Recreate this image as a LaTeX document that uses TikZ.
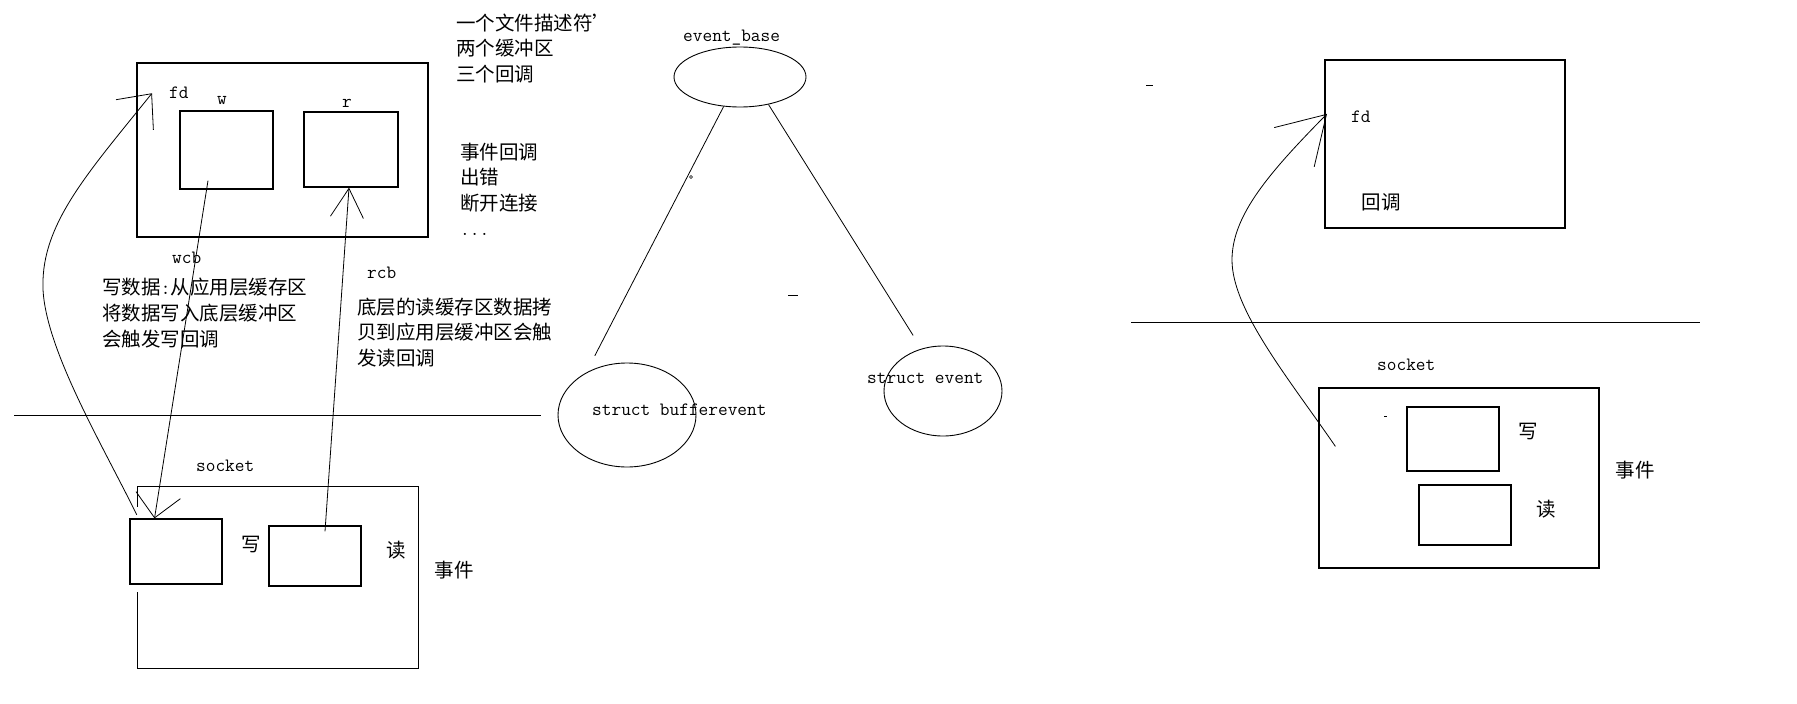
\documentclass[tikz,border=0pt]{standalone}
\usepackage{fontspec}
\newfontfamily\cjk{Noto Sans CJK SC}
\usetikzlibrary{arrows.meta,calc,positioning,shapes.geometric}
\tikzset{
    box/.style = {
        draw,
        line width=1.2pt,
        inner sep=0pt,
        },
    blob/.style = {
        draw,
        ellipse,
        line width=0.9pt,
        inner sep=0pt,
        },
    code/.style = {
        font=\fontsize{18.8}{22}\selectfont\ttfamily,
        inner sep=0pt,
        anchor=base west,
        },
    note/.style = {
        font=\cjk\fontsize{19.5}{25.8}\selectfont,
        align=left,
        inner sep=0pt,
        anchor=west,
        },
    link/.style = {
        line width=0.8pt,
        },
    fdtip/.style = {
        -{Straight Barb[length=27pt,width=48pt]},
        },
    fdtipr/.style = {
        -{Straight Barb[length=46pt,width=56pt]},
        },
    wtip/.style = {
        -{Straight Barb[length=23pt,width=45pt]},
        },
    rtip/.style = {
        -{Straight Barb[length=29pt,width=33pt]},
        },
}
\begin{document}
\begin{tikzpicture}[x=1pt, y=-1pt]
    \fill[white] (0,0) rectangle (1797,704);
    \useasboundingbox (0,0) rectangle (1797,704);

    % left: buffer side
    \node[box, minimum width=291pt, minimum height=174pt] (bev) at (282.5,150) {};
    \node[box, minimum width=93pt, minimum height=78pt] (w) at (226.5,150) {};
    \node[box, minimum width=94pt, minimum height=75pt] (r) at (351,149.5) {};
    \node[code] (fd) at (169,98) {fd};
    \node[code] (wname) at (217,104) {w};
    \node[code] (rname) at (342,107) {r};

    \node[note] (three) at (456,48.5) {一个文件描述符’\\两个缓冲区\\三个回调};
    \node[note] (evcb) at (460,177.5) {事件回调\\出错\\断开连接};
    \node[code] (more) at (460,235) {...};

    \node[code] (wcb) at (172,263) {wcb};
    \node[note] (wtext) at (102,313) {写数据{\ttfamily:}从应用层缓存区\\将数据写入底层缓冲区\\会触发写回调};
    \node[code] (rcb) at (367,278) {rcb};
    \node[note] (rtext) at (357,332.5) {底层的读缓存区数据拷\\贝到应用层缓冲区会触\\发读回调};

    \draw[link] (14,415) -- (541,415);

    % left: socket side
    \node[minimum width=280pt, minimum height=181pt, inner sep=0pt] (sk) at (278,577.5) {};
    \draw[line width=1.2pt] ($(sk.north west)+(0,20)$) -- (sk.north west) -- (sk.north east)
        -- (sk.south east) -- (sk.south west) -- ++(0,-76);
    \node[box, minimum width=92pt, minimum height=65pt] (wl) at (176,551.5) {};
    \node[box, minimum width=92pt, minimum height=60pt] (rl) at (315,556) {};
    \node[code] (skname) at (196,471) {socket};
    \node[note] (wlname) at (241.5,545) {写};
    \node[note] (rlname) at (386,550) {读};
    \node[note] (evname) at (434.5,570) {事件};

    \coordinate (lbend) at (43,280);
    \draw[link, fdtip] ($(sk.north west)+(-1,28)$) .. controls +(-37,-75) and +(-3,60) .. (lbend)
        .. controls +(2,-60) and +(-62,77) .. ($(fd.west)+(-17,1)$);
    \draw[link, wtip] ($(w.south)+(-18.5,-9)$) -- (wl.123);
    \draw[link, rtip] ($(rl.north)+(10,6)$) -- (r.-93);

    % middle: event_base
    \node[blob, minimum width=132pt, minimum height=60pt] (base) at (740,77) {};
    \node[code] (basename) at (683,41) {event\_base};
    \node[blob, minimum width=138pt, minimum height=104pt] (buf) at (627,415) {};
    \node[code] (bufname) at (592,415) {struct bufferevent};
    \node[blob, minimum width=118pt, minimum height=90pt] (ev) at (943,391) {};
    \node[code] (evtname) at (867,383) {struct event};

    \draw[link, shorten >=19pt] (base.241) -- (buf.134);
    \draw[link, shorten >=15.6pt] (base.316) -- (ev.117);
    \draw[line width=0.6pt] (691,177) circle[radius=1.5pt];
    \draw[link] (788,295) -- (798,295);

    % right: event side
    \node[box, minimum width=240pt, minimum height=168pt] (evb) at (1445,144) {};
    \node[code] (fdr) at (1351,122.6) {fd};
    \node[note] (cbr) at (1361.5,202) {回调};
    \draw[link] (1146,85) -- (1153,85);

    \draw[link] (1131,322) -- (1700,322);

    \node[box, minimum width=280pt, minimum height=180pt] (skr) at (1459,478) {};
    \node[box, minimum width=92pt, minimum height=64pt] (wr) at (1453,439) {};
    \node[box, minimum width=92pt, minimum height=60pt] (rr) at (1465,515) {};
    \node[code] (sknamer) at (1377,370.6) {socket};
    \node[note] (wrname) at (1518,432) {写};
    \node[note] (rrname) at (1536,509.4) {读};
    \node[note] (evnamer) at (1615.5,470.4) {事件};
    \draw[link] (1384,416.4) -- (1387,416.4);

    \coordinate (rbend) at (1232,260);
    \draw[link, fdtipr] ($(skr.north west)+(17,59)$) .. controls +(-46,-67) and +(0,50) .. (rbend)
        .. controls +(0,-45) and +(-57,58) .. ($(fdr.west)+(-24,-3)$);
\end{tikzpicture}
\end{document}
